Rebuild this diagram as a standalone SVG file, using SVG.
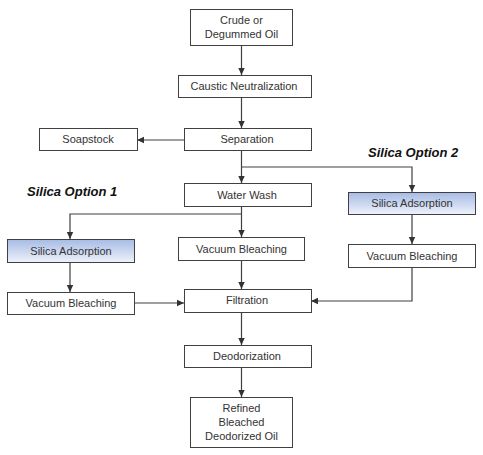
<svg xmlns="http://www.w3.org/2000/svg" width="483" height="455" viewBox="0 0 483 455">
<defs>
<linearGradient id="blue" x1="0" y1="0" x2="0" y2="1">
<stop offset="0" stop-color="#a7bbe4"/>
<stop offset="1" stop-color="#eef2fb"/>
</linearGradient>
<marker id="arr" markerWidth="8" markerHeight="8" refX="7" refY="4" orient="auto" markerUnits="userSpaceOnUse">
<path d="M0,0.8 L7,4 L0,7.2 Z" fill="#333"/>
</marker>
</defs>
<style>
.box{fill:#fff;stroke:#404040;stroke-width:1}
.blue{fill:url(#blue);stroke:#404040;stroke-width:1}
.t{font-family:"Liberation Sans",Arial,sans-serif;font-size:11px;fill:#333;text-anchor:middle}
.lbl{font-family:"Liberation Sans",Arial,sans-serif;font-size:13px;font-weight:bold;font-style:italic;fill:#111}
.c{fill:none;stroke:#404040;stroke-width:1.2;marker-end:url(#arr)}
</style>
<rect width="483" height="455" fill="#fff"/>
<g id="connectors">
<path class="c" d="M241.5,45 V75"/>
<path class="c" d="M241.5,97 V128"/>
<path class="c" d="M184,140 H137"/>
<path class="c" d="M241.5,150 V183"/>
<path class="c" d="M241.5,167 H412 V192"/>
<path class="c" d="M241.5,206 V237"/>
<path class="c" d="M241.5,214 H70 V239"/>
<path class="c" d="M70,262 V292"/>
<path class="c" d="M412,214 V244"/>
<path class="c" d="M241.5,260 V289"/>
<path class="c" d="M134,303 H184"/>
<path class="c" d="M412,267 V301 H311"/>
<path class="c" d="M241.5,312 V345"/>
<path class="c" d="M241.5,367 V397"/>
</g>
<g id="crude"><rect class="box" x="190.5" y="9.5" width="102" height="36"/><text class="t" x="241.5" y="24">Crude or</text><text class="t" x="241.5" y="38">Degummed Oil</text></g>
<g id="caustic"><rect class="box" x="178.5" y="75.5" width="133" height="22"/><text class="t" x="244" y="90">Caustic Neutralization</text></g>
<g id="separation"><rect class="box" x="184.5" y="128.5" width="127" height="22"/><text class="t" x="247" y="143">Separation</text></g>
<g id="soapstock"><rect class="box" x="39.5" y="128.5" width="98" height="22"/><text class="t" x="88" y="143">Soapstock</text></g>
<g id="waterwash"><rect class="box" x="184.5" y="183.5" width="127" height="23"/><text class="t" x="247" y="199">Water Wash</text></g>
<g id="silica2"><rect class="blue" x="348.5" y="192.5" width="127" height="22"/><text class="t" x="412" y="207">Silica Adsorption</text></g>
<g id="vb2"><rect class="box" x="348.5" y="244.5" width="127" height="23"/><text class="t" x="412" y="260">Vacuum Bleaching</text></g>
<g id="silica1"><rect class="blue" x="7.5" y="239.5" width="127" height="23"/><text class="t" x="71" y="255">Silica Adsorption</text></g>
<g id="vb1"><rect class="box" x="7.5" y="292.5" width="127" height="22"/><text class="t" x="71" y="307">Vacuum Bleaching</text></g>
<g id="vbc"><rect class="box" x="178.5" y="237.5" width="126" height="23"/><text class="t" x="241.5" y="253">Vacuum Bleaching</text></g>
<g id="filtration"><rect class="box" x="184.5" y="289.5" width="127" height="23"/><text class="t" x="247" y="304">Filtration</text></g>
<g id="deodorization"><rect class="box" x="184.5" y="345.5" width="127" height="22"/><text class="t" x="247" y="360">Deodorization</text></g>
<g id="refined"><rect class="box" x="190.5" y="397.5" width="102" height="50"/><text class="t" x="241.5" y="412">Refined</text><text class="t" x="241.5" y="426">Bleached</text><text class="t" x="241.5" y="440">Deodorized  Oil</text></g>
<g id="labels">
<text class="lbl" x="368" y="157">Silica Option 2</text>
<text class="lbl" x="27" y="196">Silica Option 1</text>
</g>
</svg>
